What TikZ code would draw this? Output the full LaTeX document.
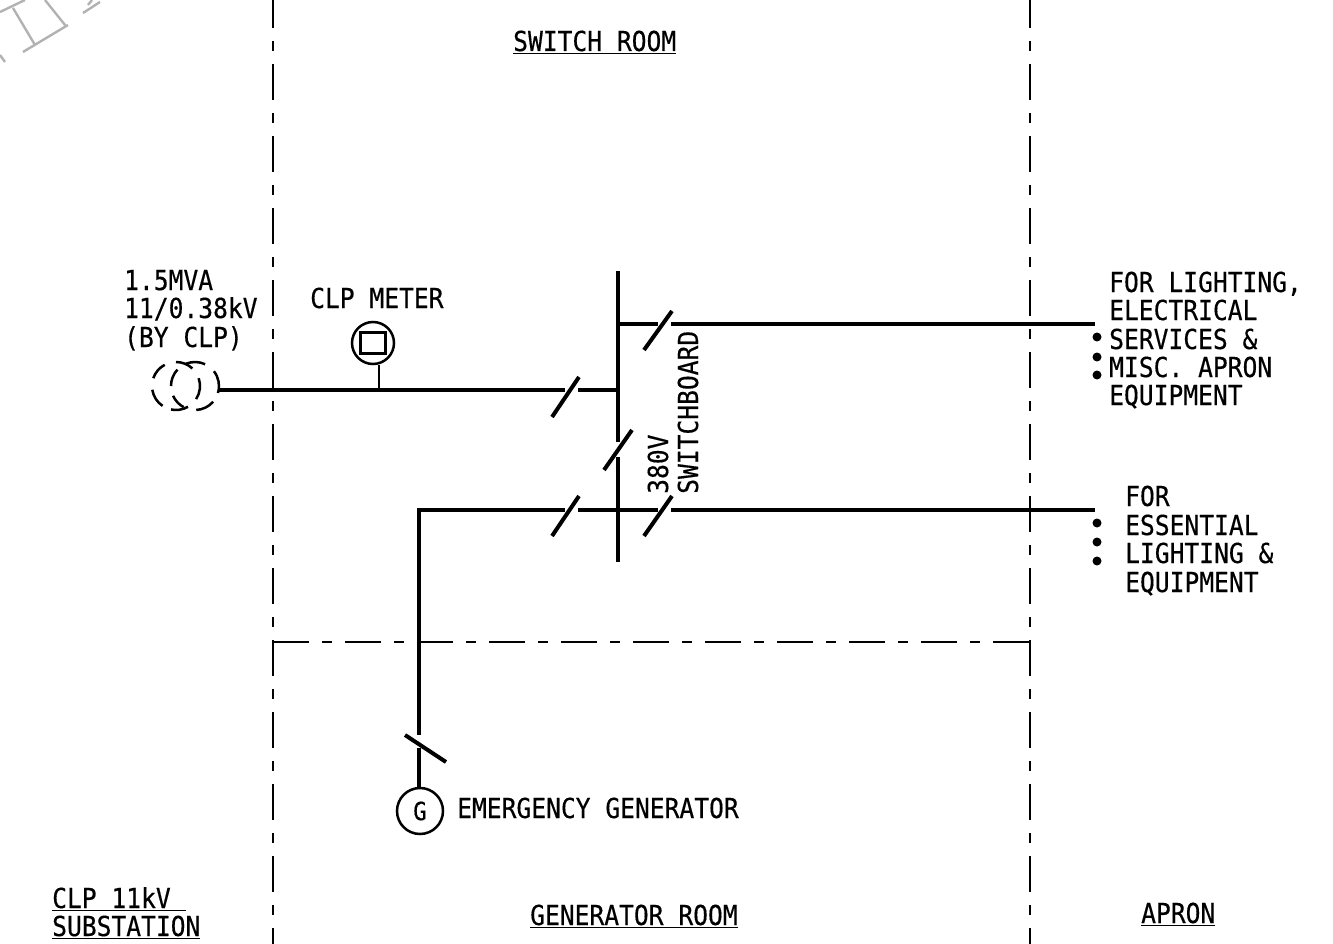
\documentclass[tikz,border=0pt]{standalone}
\usepackage{fontspec}
\setmainfont[FakeStretch=0.895,FakeBold=0.4]{DejaVu Sans Mono}
\tikzset{
 x=1pt,y=-1pt,
 heavy/.style={line width=4pt},
 lightline/.style={line width=2.5pt},
 boundary/.style={line width=2.2pt,dash pattern=on 36pt off 13pt on 10pt off 13pt},
 lbl/.style={inner sep=0pt,anchor=base west,font=\fontsize{27.5}{27.5}\selectfont},
 dotmark/.style={circle,fill=black,inner sep=0pt,minimum size=9pt},
 wm/.style={line width=2.4pt,color=black!30},
 ring/.style={circle,draw,line width=2.5pt,inner sep=0pt},
}
\begin{document}
\begin{tikzpicture}
\useasboundingbox (0,0) rectangle (1333,944);
\clip (0,0) rectangle (1333,944);
% watermark
\draw[wm] (23,52)--(68,25) (13,8)--(35,45) (45,0)--(65,25) (0,12)--(25,0) (83,13)--(100,2) (88,5)--(92,0) (0,55)--(5,62);
% boundaries
\coordinate (lt) at (273,-8); \coordinate (lb) at (273,944);
\coordinate (rt) at (1030,-8); \coordinate (rb) at (1030,944);
\coordinate (hl) at (273,642); \coordinate (hr) at (1030,642);
\draw[boundary] (lt)--(lb);
\draw[boundary] (rt)--(rb);
\draw[boundary] (hl)--(hr);
% transformer
\foreach \a/\b in {118/161,189/236,258/300,-33/19,47/90}
  \draw[lightline] (176,386)+(\a:24pt) arc[start angle=\a,end angle=\b,radius=24pt];
\foreach \a/\b in {65/112,137/180,204/242,273/319,-17/38}
  \draw[lightline] (195,386)+(\a:24pt) arc[start angle=\a,end angle=\b,radius=24pt];
\coordinate (tx) at (218,390);
% bus
\coordinate (bust) at (618,271); \coordinate (busg1) at (618,442);
\coordinate (busg2) at (618,457); \coordinate (busb) at (618,562);
\coordinate (in) at (618,390);
\draw[heavy] (bust)--(busg1); \draw[heavy] (busg2)--(busb);
\coordinate (ga) at (565,390); \coordinate (gb) at (578,390);
\draw[heavy] (tx)--(ga); \draw[heavy] (gb)--(in);
% upper feeder
\coordinate (up) at (618,324); \coordinate (upa) at (658,324);
\coordinate (upb) at (671,324); \coordinate (upe) at (1095,324);
\draw[heavy] (up)--(upa); \draw[heavy] (upb)--(upe);
% lower feeder
\coordinate (lowl) at (419,510); \coordinate (la) at (565,510); \coordinate (lb2) at (578,510);
\coordinate (lc) at (658,510); \coordinate (ld) at (671,510); \coordinate (lowe) at (1095,510);
\draw[heavy] (lowl)--(la); \draw[heavy] (lb2)--(lc); \draw[heavy] (ld)--(lowe);
% slashes
\draw[heavy] (552,417)--(579,377);
\draw[heavy] (644,350)--(672,311);
\draw[heavy] (604,470)--(632,430);
\draw[heavy] (552,536)--(579,496);
\draw[heavy] (644,536)--(672,496);
\draw[heavy] (405,735)--(446,762);
% generator
\node[ring,minimum size=46pt] (gen) at (420,811) {};
\node[inner sep=0pt,font=\fontsize{25}{25}\selectfont] at (gen.center) {G};
\coordinate (ga2) at (419,735); \coordinate (gb2) at (419,748);
\draw[heavy] (419,508)--(ga2);
\draw[heavy] (gb2)--(gen.north -| gb2);
% meter
\node[ring,minimum size=42pt] (meter) at (373,343) {};
\node[draw,line width=2.5pt,minimum width=25pt,minimum height=21pt,inner sep=0pt] at (meter.center) {};
\coordinate (stem) at (379,390);
\draw[lightline] (meter.south -| stem)--(stem);
% dots
\foreach \y in {337,357,375,523,542,561}
  \node[dotmark] at (1097,\y) {};
% text
\node[lbl] at (124,290) {1.5MVA};
\node[lbl] at (124,318) {11/0.38kV};
\node[lbl] at (124,347) {(BY CLP)};
\node[lbl] at (310,308) {CLP METER};
\node[lbl] at (457,818) {EMERGENCY GENERATOR};
\node[lbl] at (513,51) {\underline{SWITCH ROOM}};
\node[lbl] at (1109,292) {FOR LIGHTING,};
\node[lbl] at (1109,320) {ELECTRICAL};
\node[lbl] at (1109,349) {SERVICES \&};
\node[lbl] at (1109,377) {MISC. APRON};
\node[lbl] at (1109,405) {EQUIPMENT};
\node[lbl] at (1125,506) {FOR};
\node[lbl] at (1125,535) {ESSENTIAL};
\node[lbl] at (1125,563) {LIGHTING \&};
\node[lbl] at (1125,592) {EQUIPMENT};
\node[lbl] at (52,908) {\underline{CLP 11kV\ }};
\node[lbl] at (52,936) {\underline{SUBSTATION}};
\node[lbl] at (530,925) {\underline{GENERATOR ROOM}};
\node[lbl] at (1141,923) {\underline{APRON}};
\node[lbl,rotate=90] at (668,494) {380V};
\node[lbl,rotate=90] at (698,494) {SWITCHBOARD};
\end{tikzpicture}
\end{document}
